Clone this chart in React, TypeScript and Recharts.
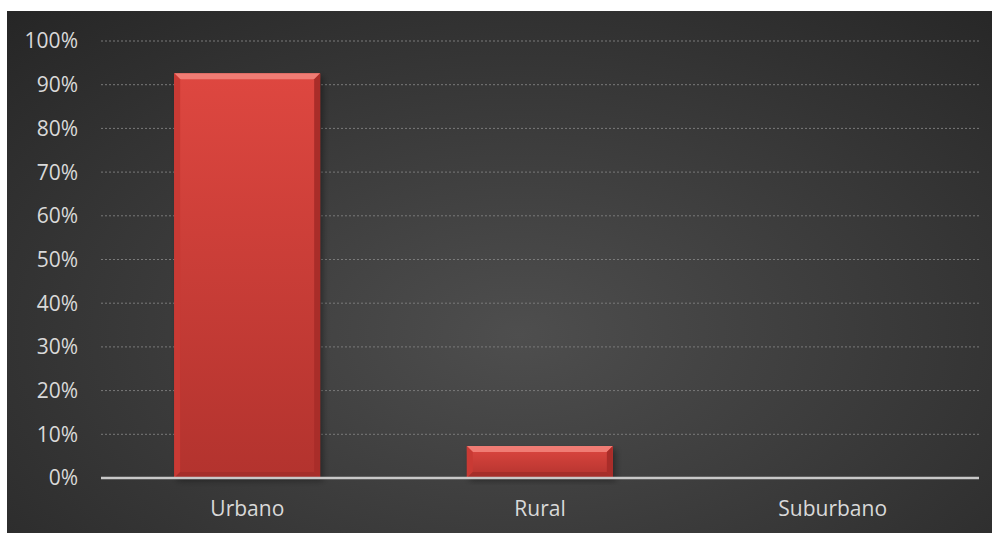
import { BarChart, Bar, XAxis, YAxis, CartesianGrid } from "recharts";

const categories = ["Urbano", "Rural", "Suburbano"];
const shares = [92.6, 7.3, 0];
const yTicks = [0, 10, 20, 30, 40, 50, 60, 70, 80, 90, 100];

const data = categories.map((name, i) => ({ name, value: shares[i] }));

const FONT = "'Open Sans', sans-serif";

function BevelBar(props: any) {
  const { x, y, width, height } = props;
  if (!height || height <= 0) return null;
  const b = Math.min(6, height / 2);
  return (
    <g>
      <rect x={x + 3} y={y + 3} width={width} height={height} fill="rgba(0,0,0,0.35)" filter="url(#barShadow)" />
      <rect x={x} y={y} width={width} height={height} fill="url(#barFill)" />
      <polygon
        points={`${x},${y} ${x + width},${y} ${x + width - b},${y + b} ${x + b},${y + b}`}
        fill="#f07c74"
      />
      <polygon
        points={`${x},${y} ${x + b},${y + b} ${x + b},${y + height - b} ${x},${y + height}`}
        fill="#c93a34"
      />
      <polygon
        points={`${x + width},${y} ${x + width},${y + height} ${x + width - b},${y + height - b} ${x + width - b},${y + b}`}
        fill="#a92d29"
      />
      <polygon
        points={`${x},${y + height} ${x + b},${y + height - b} ${x + width - b},${y + height - b} ${x + width},${y + height}`}
        fill="#a52e2a"
      />
    </g>
  );
}

export default function App() {
  return (
    <div
      style={{
        position: "absolute",
        left: 7,
        top: 11,
        width: 985,
        height: 522,
        background:
          "radial-gradient(ellipse 75% 85% at 52% 62%, #4e4e4e 0%, #3c3c3c 45%, #262626 100%)",
      }}
    >
      <BarChart
        width={985}
        height={522}
        data={data}
        margin={{ top: 30, right: 13, left: 0, bottom: 0 }}
        barCategoryGap="25%"
      >
        <defs>
          <linearGradient id="barFill" x1="0" y1="0" x2="0" y2="1">
            <stop offset="0%" stopColor="#de4740" />
            <stop offset="100%" stopColor="#b3332e" />
          </linearGradient>
          <filter id="barShadow" x="-10%" y="-10%" width="120%" height="120%">
            <feGaussianBlur stdDeviation="3" />
          </filter>
        </defs>
        <CartesianGrid
          vertical={false}
          stroke="#7a7a7a"
          strokeDasharray="2 2"
          strokeWidth={1}
        />
        <XAxis
          dataKey="name"
          height={55}
          tickLine={false}
          tickMargin={17}
          axisLine={{ stroke: "#c8c8c8", strokeWidth: 2.5 }}
          tick={{ fill: "#d9d9d9", fontSize: 21, fontFamily: FONT }}
        />
        <YAxis
          width={94}
          domain={[0, 100]}
          ticks={yTicks}
          interval={0}
          tickFormatter={(v: number) => `${v}%`}
          axisLine={false}
          tickLine={false}
          tickMargin={17}
          tick={{ fill: "#d9d9d9", fontSize: 21, fontFamily: FONT }}
        />
        <Bar dataKey="value" shape={BevelBar} isAnimationActive={false} />
      </BarChart>
    </div>
  );
}
